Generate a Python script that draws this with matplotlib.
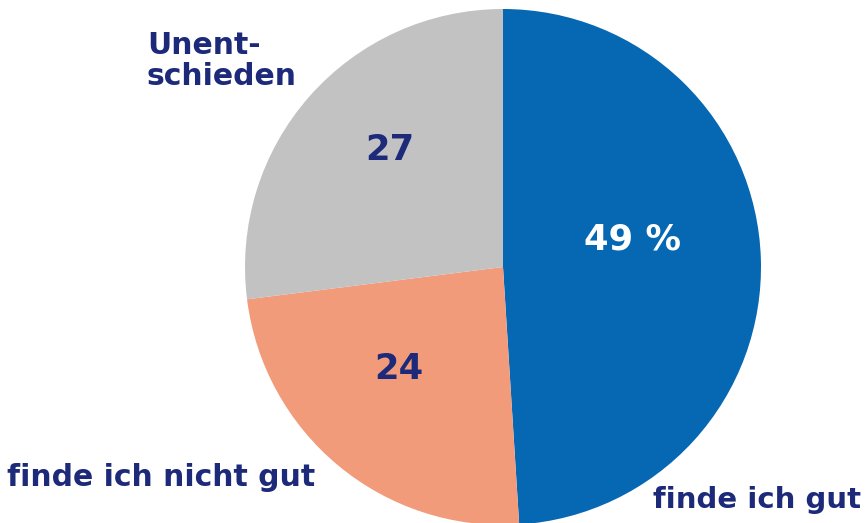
import numpy as np
import matplotlib.pyplot as plt

labels = ["finde ich gut", "finde ich nicht gut", "Unent-\nschieden"]
values = [49, 24, 27]
value_text = ["49 %", "24", "27"]
colors = ["#0667b3", "#f19b7a", "#c2c2c2"]
navy = "#1d2a7a"

fig = plt.figure(figsize=(8.65, 5.23), dpi=100)
ax = fig.add_axes([0, 0, 1, 1])

# pie centre / radius in pixel units
cx, cy, r = 503, 523 - 267, 258
ax.pie(values, colors=colors, startangle=90, counterclock=False,
       center=(cx, cy), radius=r, frame=True,
       wedgeprops=dict(linewidth=0))
ax.set_xlim(0, 865)
ax.set_ylim(0, 523)
ax.axis("off")

# values inside the slices
ax.text(632, 523 - 239, value_text[0], color="white", fontsize=25.5,
        fontweight="bold", ha="center", va="center")
ax.text(399, 523 - 369, value_text[1], color=navy, fontsize=25.5,
        fontweight="bold", ha="center", va="center")
ax.text(390, 523 - 150, value_text[2], color=navy, fontsize=25.5,
        fontweight="bold", ha="center", va="center")

# category labels
ax.text(757, 523 - 500, labels[0], color=navy, fontsize=21,
        fontweight="bold", ha="center", va="center")
ax.text(161, 523 - 478, labels[1], color=navy, fontsize=21.5,
        fontweight="bold", ha="center", va="center")
ax.text(147, 523 - 61, labels[2], color=navy, fontsize=21.5,
        fontweight="bold", ha="left", va="center", linespacing=1.05)

fig.savefig("out.png", dpi=100)
